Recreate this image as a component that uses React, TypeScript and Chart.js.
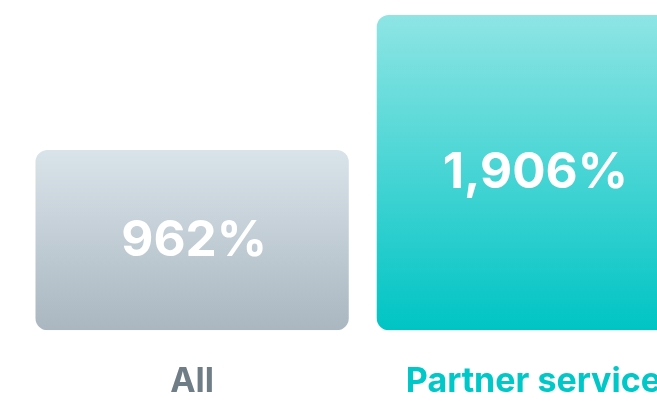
import React, { useEffect, useRef } from "react";
import { Chart, registerables } from "chart.js";

Chart.register(...registerables);

const categories = ["All", "Partner service"];
const values = [962, 1906];
const labelColors = ["#6f7d87", "#00c8c8"];
const gradientTops = ["#d9e3ea", "#8ee5e4"];
const gradientBottoms = ["#aab7c0", "#00c4c4"];
const yMin = -297;
const yMax = 2011;

const valueLabels = {
  id: "valueLabels",
  afterDatasetsDraw(chart: any) {
    const ctx = chart.ctx;
    const meta = chart.getDatasetMeta(0);
    ctx.save();
    ctx.fillStyle = "#ffffff";
    ctx.font = "700 49.5px Inter";
    ctx.textAlign = "center";
    ctx.textBaseline = "middle";
    meta.data.forEach((el: any, i: number) => {
      const v = values[i];
      const text = v.toLocaleString("en-US") + "%";
      const cy = (el.y + el.base) / 2;
      ctx.fillText(text, el.x + 2, cy + 1);
    });
    ctx.restore();
  },
};

export default function App() {
  const ref = useRef<HTMLCanvasElement | null>(null);
  useEffect(() => {
    if (!ref.current) return;
    const chart = new Chart(ref.current, {
      type: "bar",
      data: {
        labels: categories,
        datasets: [
          {
            data: values,
            base: yMin,
            backgroundColor: (c: any) => {
              const ch = c.chart;
              const i = c.dataIndex ?? 0;
              if (!ch.chartArea || !ch.scales.y) return gradientBottoms[i];
              const yTop = ch.scales.y.getPixelForValue(values[i]);
              const yBot = ch.scales.y.getPixelForValue(yMin);
              const g = ch.ctx.createLinearGradient(0, yTop, 0, yBot);
              g.addColorStop(0, gradientTops[i]);
              g.addColorStop(1, gradientBottoms[i]);
              return g;
            },
            borderWidth: 0,
            borderRadius: 12,
            borderSkipped: false,
            categoryPercentage: 1,
            barPercentage: 0.918,
          } as any,
        ],
      },
      options: {
        responsive: true,
        maintainAspectRatio: false,
        animation: false,
        layout: { padding: { left: 21.5, right: 0, top: 0, bottom: 0 } },
        plugins: {
          legend: { display: false },
          tooltip: { enabled: false },
        },
        scales: {
          y: { display: false, min: yMin, max: yMax },
          x: {
            grid: { display: false, drawTicks: false },
            border: { display: false },
            ticks: {
              padding: 31.5,
              maxRotation: 0,
              autoSkip: false,
              font: { family: "Inter", weight: "700", size: 34 },
              color: (c: any) => labelColors[c.index] ?? labelColors[0],
            },
          },
        },
      },
      plugins: [valueLabels],
    });
    return () => chart.destroy();
  }, []);
  return (
    <div
      style={{
        position: "fixed",
        left: 0,
        top: 0,
        width: 657,
        height: 401,
        overflow: "hidden",
        background: "#ffffff",
      }}
    >
      <div style={{ position: "relative", width: 704, height: 434 }}>
        <canvas ref={ref} />
      </div>
    </div>
  );
}
